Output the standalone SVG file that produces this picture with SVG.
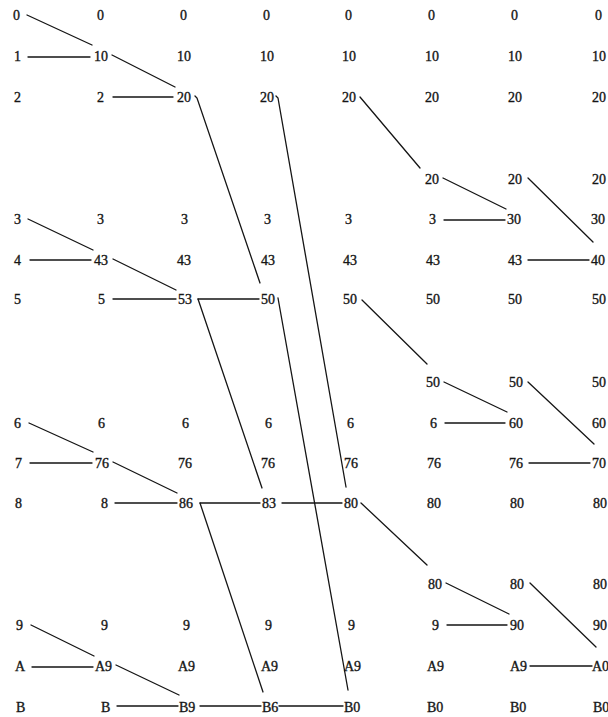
<svg xmlns="http://www.w3.org/2000/svg" width="608" height="717" viewBox="0 0 608 717">
<style>
.t{font-family:"Liberation Serif","Times New Roman",serif;font-size:14px;fill:#151515;stroke:#151515;stroke-width:0.35}
.e{stroke:#151515;stroke-width:1.3;fill:none;stroke-linecap:round}
</style>
<rect width="608" height="717" fill="#ffffff"/>
<g id="col0">
<g id="c0r0"><text class="t" x="13" y="20">0</text></g>
<g id="c0r1"><text class="t" x="14" y="61">1</text></g>
<g id="c0r2"><text class="t" x="14" y="102">2</text></g>
<g id="c0r5"><text class="t" x="14" y="224">3</text></g>
<g id="c0r6"><text class="t" x="14" y="265">4</text></g>
<g id="c0r7"><text class="t" x="14" y="304">5</text></g>
<g id="c0r10"><text class="t" x="14" y="428">6</text></g>
<g id="c0r11"><text class="t" x="15" y="468">7</text></g>
<g id="c0r12"><text class="t" x="15" y="508">8</text></g>
<g id="c0r15"><text class="t" x="16" y="630">9</text></g>
<g id="c0r16"><text class="t" x="15" y="671">A</text></g>
<g id="c0r17"><text class="t" x="16" y="712">B</text></g>
</g>
<g id="col1">
<g id="c1r0"><text class="t" x="97" y="20">0</text></g>
<g id="c1r1"><text class="t" x="94" y="61">10</text></g>
<g id="c1r2"><text class="t" x="97" y="102">2</text></g>
<g id="c1r5"><text class="t" x="97" y="224">3</text></g>
<g id="c1r6"><text class="t" x="94" y="265">43</text></g>
<g id="c1r7"><text class="t" x="98" y="304">5</text></g>
<g id="c1r10"><text class="t" x="98" y="428">6</text></g>
<g id="c1r11"><text class="t" x="95" y="468">76</text></g>
<g id="c1r12"><text class="t" x="101" y="508">8</text></g>
<g id="c1r15"><text class="t" x="101" y="630">9</text></g>
<g id="c1r16"><text class="t" x="95" y="671">A9</text></g>
<g id="c1r17"><text class="t" x="101" y="712">B</text></g>
</g>
<g id="col2">
<g id="c2r0"><text class="t" x="180" y="20">0</text></g>
<g id="c2r1"><text class="t" x="177" y="61">10</text></g>
<g id="c2r2"><text class="t" x="177" y="102">20</text></g>
<g id="c2r5"><text class="t" x="181" y="224">3</text></g>
<g id="c2r6"><text class="t" x="177" y="265">43</text></g>
<g id="c2r7"><text class="t" x="178" y="304">53</text></g>
<g id="c2r10"><text class="t" x="182" y="428">6</text></g>
<g id="c2r11"><text class="t" x="178" y="468">76</text></g>
<g id="c2r12"><text class="t" x="179" y="508">86</text></g>
<g id="c2r15"><text class="t" x="183" y="630">9</text></g>
<g id="c2r16"><text class="t" x="178" y="671">A9</text></g>
<g id="c2r17"><text class="t" x="179" y="712">B9</text></g>
</g>
<g id="col3">
<g id="c3r0"><text class="t" x="263" y="20">0</text></g>
<g id="c3r1"><text class="t" x="260" y="61">10</text></g>
<g id="c3r2"><text class="t" x="260" y="102">20</text></g>
<g id="c3r5"><text class="t" x="264" y="224">3</text></g>
<g id="c3r6"><text class="t" x="261" y="265">43</text></g>
<g id="c3r7"><text class="t" x="261" y="304">50</text></g>
<g id="c3r10"><text class="t" x="265" y="428">6</text></g>
<g id="c3r11"><text class="t" x="261" y="468">76</text></g>
<g id="c3r12"><text class="t" x="262" y="508">83</text></g>
<g id="c3r15"><text class="t" x="265" y="630">9</text></g>
<g id="c3r16"><text class="t" x="261" y="671">A9</text></g>
<g id="c3r17"><text class="t" x="262" y="712">B6</text></g>
</g>
<g id="col4">
<g id="c4r0"><text class="t" x="345" y="20">0</text></g>
<g id="c4r1"><text class="t" x="342" y="61">10</text></g>
<g id="c4r2"><text class="t" x="342" y="102">20</text></g>
<g id="c4r5"><text class="t" x="345" y="224">3</text></g>
<g id="c4r6"><text class="t" x="343" y="265">43</text></g>
<g id="c4r7"><text class="t" x="343" y="304">50</text></g>
<g id="c4r10"><text class="t" x="347" y="428">6</text></g>
<g id="c4r11"><text class="t" x="344" y="468">76</text></g>
<g id="c4r12"><text class="t" x="344" y="508">80</text></g>
<g id="c4r15"><text class="t" x="348" y="630">9</text></g>
<g id="c4r16"><text class="t" x="344" y="671">A9</text></g>
<g id="c4r17"><text class="t" x="344" y="712">B0</text></g>
</g>
<g id="col5">
<g id="c5r0"><text class="t" x="428" y="20">0</text></g>
<g id="c5r1"><text class="t" x="425" y="61">10</text></g>
<g id="c5r2"><text class="t" x="425" y="102">20</text></g>
<g id="c5r4"><text class="t" x="425" y="184">20</text></g>
<g id="c5r5"><text class="t" x="429" y="224">3</text></g>
<g id="c5r6"><text class="t" x="426" y="265">43</text></g>
<g id="c5r7"><text class="t" x="426" y="304">50</text></g>
<g id="c5r9"><text class="t" x="426" y="387">50</text></g>
<g id="c5r10"><text class="t" x="430" y="428">6</text></g>
<g id="c5r11"><text class="t" x="427" y="468">76</text></g>
<g id="c5r12"><text class="t" x="427" y="508">80</text></g>
<g id="c5r14"><text class="t" x="428" y="589">80</text></g>
<g id="c5r15"><text class="t" x="432" y="630">9</text></g>
<g id="c5r16"><text class="t" x="427" y="671">A9</text></g>
<g id="c5r17"><text class="t" x="427" y="712">B0</text></g>
</g>
<g id="col6">
<g id="c6r0"><text class="t" x="511" y="20">0</text></g>
<g id="c6r1"><text class="t" x="508" y="61">10</text></g>
<g id="c6r2"><text class="t" x="508" y="102">20</text></g>
<g id="c6r4"><text class="t" x="508" y="184">20</text></g>
<g id="c6r5"><text class="t" x="507" y="224">30</text></g>
<g id="c6r6"><text class="t" x="508" y="265">43</text></g>
<g id="c6r7"><text class="t" x="508" y="304">50</text></g>
<g id="c6r9"><text class="t" x="509" y="387">50</text></g>
<g id="c6r10"><text class="t" x="509" y="428">60</text></g>
<g id="c6r11"><text class="t" x="509" y="468">76</text></g>
<g id="c6r12"><text class="t" x="510" y="508">80</text></g>
<g id="c6r14"><text class="t" x="510" y="589">80</text></g>
<g id="c6r15"><text class="t" x="510" y="630">90</text></g>
<g id="c6r16"><text class="t" x="510" y="671">A9</text></g>
<g id="c6r17"><text class="t" x="510" y="712">B0</text></g>
</g>
<g id="col7">
<g id="c7r0"><text class="t" x="595" y="20">0</text></g>
<g id="c7r1"><text class="t" x="592" y="61">10</text></g>
<g id="c7r2"><text class="t" x="592" y="102">20</text></g>
<g id="c7r4"><text class="t" x="592" y="184">20</text></g>
<g id="c7r5"><text class="t" x="591" y="224">30</text></g>
<g id="c7r6"><text class="t" x="591" y="265">40</text></g>
<g id="c7r7"><text class="t" x="592" y="304">50</text></g>
<g id="c7r9"><text class="t" x="592" y="387">50</text></g>
<g id="c7r10"><text class="t" x="592" y="428">60</text></g>
<g id="c7r11"><text class="t" x="592" y="468">70</text></g>
<g id="c7r12"><text class="t" x="593" y="508">80</text></g>
<g id="c7r14"><text class="t" x="593" y="589">80</text></g>
<g id="c7r15"><text class="t" x="593" y="630">90</text></g>
<g id="c7r16"><text class="t" x="592" y="671">A0</text></g>
<g id="c7r17"><text class="t" x="593" y="712">B0</text></g>
</g>
<g id="connectors">
<path class="e" d="M27 15L92 45"/>
<path class="e" d="M28 57H90"/>
<path class="e" d="M28 219L93 250"/>
<path class="e" d="M30 260H91"/>
<path class="e" d="M29 423L93 452"/>
<path class="e" d="M30 463H92"/>
<path class="e" d="M31 625L94 656"/>
<path class="e" d="M32 667H93"/>
<path class="e" d="M112 55L175 87"/>
<path class="e" d="M113 97H173"/>
<path class="e" d="M113 259L176 290"/>
<path class="e" d="M113 299H176"/>
<path class="e" d="M113 462L177 493"/>
<path class="e" d="M115 503H177"/>
<path class="e" d="M116 665L179 695"/>
<path class="e" d="M117 706H178"/>
<path class="e" d="M195 96L197 98L260 283"/>
<path class="e" d="M198 299H259"/>
<path class="e" d="M198 299L262 488"/>
<path class="e" d="M200 503H260"/>
<path class="e" d="M200 503L263 692"/>
<path class="e" d="M200 706H261"/>
<path class="e" d="M276 96L278 98L346 487"/>
<path class="e" d="M278 298L348 690"/>
<path class="e" d="M282 503H342"/>
<path class="e" d="M279 706H343"/>
<path class="e" d="M360 97L420 168"/>
<path class="e" d="M362 300L427 364"/>
<path class="e" d="M361 503L427 565"/>
<path class="e" d="M443 178L506 209"/>
<path class="e" d="M444 220H505"/>
<path class="e" d="M444 382L507 412"/>
<path class="e" d="M445 423H505"/>
<path class="e" d="M446 583L509 614"/>
<path class="e" d="M447 625H507"/>
<path class="e" d="M528 178L593 242"/>
<path class="e" d="M528 260H589"/>
<path class="e" d="M528 382L594 444"/>
<path class="e" d="M529 463H590"/>
<path class="e" d="M530 583L596 647"/>
<path class="e" d="M530 666H592"/>
</g>
</svg>
